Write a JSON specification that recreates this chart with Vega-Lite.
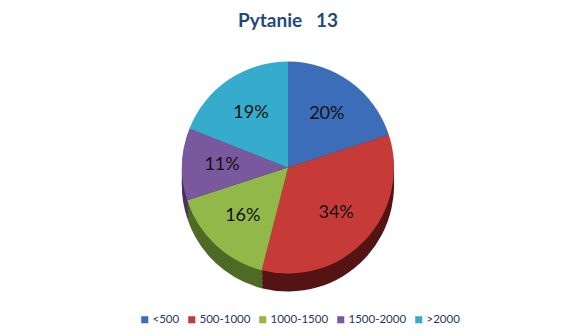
{
  "$schema": "https://vega.github.io/schema/vega-lite/v6.json",
  "width": 576,
  "height": 336,
  "autosize": {"type": "fit", "contains": "padding"},
  "padding": {"top": 12, "bottom": 38, "left": 5, "right": 5},
  "background": "white",
  "title": {"text": "Pytanie\u00a0\u00a0 13", "font": "Lato", "fontSize": 19, "fontWeight": "bold", "color": "#1F497D", "offset": 6},
  "data": {"values": [
    {"group": "<500", "share": 0.20, "ord": 1},
    {"group": "500-1000", "share": 0.34, "ord": 2},
    {"group": "1000-1500", "share": 0.16, "ord": 3},
    {"group": "1500-2000", "share": 0.11, "ord": 4},
    {"group": ">2000", "share": 0.19, "ord": 5}
  ]},
  "encoding": {
    "theta": {"field": "share", "type": "quantitative", "stack": true},
    "order": {"field": "ord", "type": "quantitative"}
  },
  "layer": [
    {"mark": {"type": "arc", "outerRadius": 106, "yOffset": 18}, "encoding": {"fill": {"field": "group", "type": "nominal", "sort": ["<500", "500-1000", "1000-1500", "1500-2000", ">2000"], "scale": {"range": ["#23406e", "#541414", "#4f6a24", "#46335f", "#1f6e82"]}, "legend": null}}},
    {"mark": {"type": "arc", "outerRadius": 106, "yOffset": 14}, "encoding": {"fill": {"field": "group", "type": "nominal", "sort": ["<500", "500-1000", "1000-1500", "1500-2000", ">2000"], "legend": null}}},
    {"mark": {"type": "arc", "outerRadius": 106, "yOffset": 9}, "encoding": {"fill": {"field": "group", "type": "nominal", "sort": ["<500", "500-1000", "1000-1500", "1500-2000", ">2000"], "legend": null}}},
    {"mark": {"type": "arc", "outerRadius": 106, "yOffset": 4}, "encoding": {"fill": {"field": "group", "type": "nominal", "sort": ["<500", "500-1000", "1000-1500", "1500-2000", ">2000"], "legend": null}}},
    {"mark": {"type": "arc", "outerRadius": 106}, "encoding": {"color": {"field": "group", "type": "nominal", "sort": ["<500", "500-1000", "1000-1500", "1500-2000", ">2000"], "scale": {"range": ["#3B6DB8", "#C63B37", "#93B84A", "#7A589E", "#35ACCC"]}, "legend": {"title": null, "orient": "none", "legendX": 134, "legendY": 277, "direction": "horizontal", "gridAlign": "none", "symbolType": "square", "symbolSize": 50, "symbolStrokeWidth": 0, "labelOffset": 2, "labelFont": "Lato", "labelFontSize": 11.5, "labelColor": "#1F3864", "columnPadding": 6}}}},
    {"mark": {"type": "text", "radius": 66, "font": "Lato", "fontSize": 18, "color": "#111111"}, "encoding": {"text": {"field": "share", "type": "quantitative", "format": ".0%"}}}
  ],
  "config": {"view": {"stroke": null}}
}
